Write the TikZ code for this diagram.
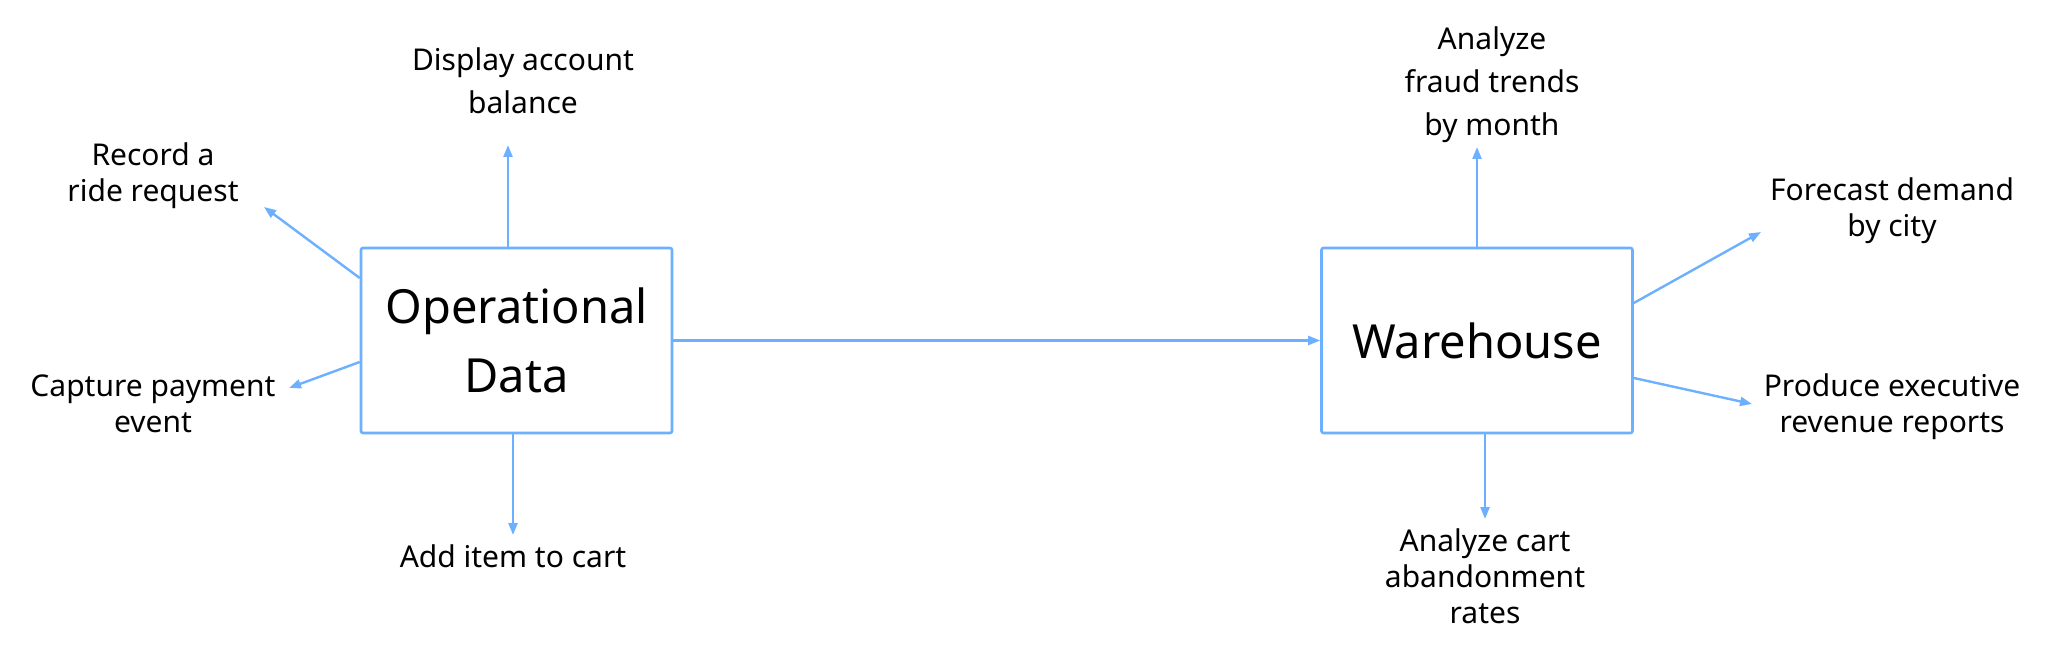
\documentclass[tikz,border=0pt]{standalone}
\usepackage{fontspec}
\setmainfont{Noto Sans}
\usetikzlibrary{arrows.meta}
\definecolor{linkblue}{HTML}{6CB0FF}
\definecolor{inkblack}{HTML}{000000}
\begin{document}
\begin{tikzpicture}[x=0.5pt,y=-0.5pt,
  stagebox/.style={draw=linkblue, line width=1.3pt, rounded corners=1pt, fill=white,
    minimum width=155.5pt, minimum height=92.5pt, inner sep=0pt, align=center,
    text=inkblack, font=\fontsize{23.5}{34.5}\selectfont},
  sidelabel/.style={anchor=base, inner sep=0pt, align=center, text=inkblack,
    font=\fontsize{15}{18}\selectfont},
  toplabel/.style={sidelabel, font=\fontsize{15}{21.5}\selectfont},
  flow/.style={draw=linkblue, line width=1.2pt, -{Triangle[length=6pt,width=4.5pt]}}
]
\useasboundingbox (0,0) rectangle (2048,651);

\node[stagebox] (ops) at (516.5,340.5) {Operational\\Data};
\node[stagebox] (wh) at (1477,340.5) {Warehouse};

% labels (anchor = baseline of the last line)
\node[toplabel] (lbal) at (523,114) {Display account\\balance};
\node[sidelabel] (lride) at (153,202) {Record a\\ride request};
\node[sidelabel] (lpay) at (153,433) {Capture payment\\event};
\node[sidelabel] (lcart) at (513,567) {Add item to cart};
\node[toplabel] (lfraud) at (1492,136) {Analyze\\fraud trends\\by month};
\node[sidelabel] (labd) at (1485,623) {Analyze cart\\abandonment\\rates};
\node[sidelabel] (lfore) at (1892,237) {Forecast demand\\by city};
\node[sidelabel] (lrev) at (1892,433) {Produce executive\\revenue reports};

% free arrow ends
\coordinate (tbal) at (508,145);
\coordinate (tride) at (264,207);
\coordinate (tpay) at (289,388);
\coordinate (tcart) at (513,535);
\coordinate (tfraud) at (1477,147);
\coordinate (tabd) at (1485,519);
\coordinate (tfore) at (1761,232);
\coordinate (trev) at (1752,404);

% connectors
\draw[flow] ([xshift=-4.25pt]ops.north) -- (tbal);
\draw[flow] ([xshift=-1.75pt]ops.south) -- (tcart);
\draw[flow] ([yshift=31.25pt]ops.west) -- (tride);
\draw[flow] ([yshift=-10.75pt]ops.west) -- (tpay);
\draw[flow] (ops.east) -- (wh.west);
\draw[flow] (wh.north) -- (tfraud);
\draw[flow] ([xshift=4pt]wh.south) -- (tabd);
\draw[flow] ([yshift=18.75pt]wh.east) -- (tfore);
\draw[flow] ([yshift=-18.75pt]wh.east) -- (trev);
\end{tikzpicture}
\end{document}
